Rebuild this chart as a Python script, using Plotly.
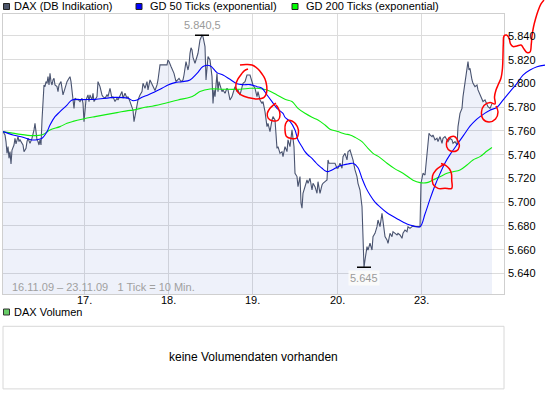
import plotly.graph_objects as go

W, H = 545, 395

# ---------------- data ----------------
# DAX (DB Indikation), x = 10-minute tick counted from the start of 16.11.09
tick = [0, 2, 3, 4, 5, 6, 7, 8, 9, 11, 12, 13, 15, 16, 17, 19, 20, 21, 23, 24, 25, 27, 28, 29, 31, 32, 33, 34, 35, 36,
        37, 38, 39, 40, 41, 42, 43, 44, 45, 46, 47, 48, 49, 50, 51, 52, 54, 55, 56, 58, 59, 60, 62, 63, 64, 66, 67, 68,
        70, 71, 72, 74, 75, 77, 79, 80, 81, 82, 83, 85, 86, 87, 89, 90, 91, 92, 94, 95, 97, 99, 100, 102, 104, 105, 107,
        109, 110, 112, 114, 115, 117, 119, 120, 122, 124, 125, 127, 129, 130, 131, 133, 134, 135, 137, 139, 140, 142,
        144, 145, 147, 149, 150, 152, 154, 155, 157, 159, 160, 162, 164, 165, 166, 168, 170, 171, 173, 175, 176, 178,
        180, 181, 183, 185, 186, 187, 188, 189, 190, 192, 194, 195, 197, 199, 200, 202, 203, 204, 205, 207, 208, 209,
        210, 211, 212, 214, 215, 216, 218, 219, 220, 222, 224, 225, 227, 229, 230, 232, 234, 235, 237, 239, 240, 242,
        244, 247, 249, 250, 252, 254, 255, 257, 259, 260, 262, 264, 265, 267, 269, 270, 272, 273, 274, 275, 277, 279,
        280, 282, 284, 285, 287, 289, 290, 291, 292, 294, 295, 297, 298, 299, 300, 302, 304, 305, 307, 309, 310, 312,
        314, 315, 317, 319, 320, 322, 324, 325, 326, 329, 332, 334, 335, 337, 339, 340, 342, 344, 345, 347, 349, 350,
        352, 354, 355, 357, 359, 360, 361, 362, 364, 365, 367, 369, 370, 372, 374, 375, 377, 379, 380, 382, 384, 385,
        387, 389, 390, 392, 394, 395, 397, 399, 400, 402, 404, 405, 407, 409, 410, 412, 414, 417, 418, 419, 420, 422,
        423, 424, 425, 426, 427, 429, 430, 432, 434, 435, 437, 439, 440, 442, 444, 445, 447, 449, 450, 452, 454, 455,
        457, 459, 460, 462, 464, 465, 466, 467, 469, 470, 472, 474, 475, 477, 479, 480, 482, 484, 485, 487, 489]
price = [5759.4, 5756.6, 5751.0, 5741.1, 5746.7, 5736.9, 5742.5, 5732.1, 5743.9, 5748.1, 5753.8, 5749.0, 5755.2,
         5751.0, 5752.4, 5749.5, 5748.1, 5742.5, 5745.3, 5751.0, 5753.8, 5749.5, 5751.8, 5753.8, 5760.8, 5766.4,
         5759.4, 5752.4, 5751.0, 5748.1, 5752.4, 5748.1, 5769.2, 5786.1, 5798.7, 5797.3, 5801.5, 5800.1, 5805.7,
         5798.7, 5808.5, 5801.5, 5798.7, 5802.9, 5804.3, 5798.7, 5797.3, 5793.1, 5798.7, 5801.5, 5795.9, 5790.3,
         5795.9, 5800.1, 5801.5, 5804.3, 5805.7, 5801.5, 5788.9, 5779.0, 5787.5, 5786.1, 5786.6, 5784.7, 5787.5,
         5783.2, 5767.8, 5777.6, 5786.1, 5790.3, 5784.7, 5790.3, 5786.1, 5791.7, 5784.7, 5786.1, 5788.9, 5801.5,
         5797.3, 5790.3, 5788.9, 5787.5, 5790.3, 5788.9, 5795.9, 5787.5, 5788.9, 5784.7, 5787.5, 5786.1, 5790.3,
         5793.1, 5787.5, 5791.7, 5787.5, 5788.9, 5784.7, 5779.0, 5777.6, 5767.8, 5779.0, 5784.7, 5786.1, 5790.3,
         5793.1, 5800.1, 5795.9, 5801.5, 5794.5, 5802.9, 5798.7, 5797.3, 5794.0, 5798.7, 5802.9, 5815.6, 5815.6,
         5815.6, 5815.6, 5815.6, 5819.8, 5818.4, 5814.2, 5810.0, 5808.5, 5801.5, 5802.9, 5804.3, 5801.5, 5802.9,
         5807.1, 5818.4, 5811.3, 5815.6, 5825.4, 5830.0, 5828.2, 5822.0, 5817.0, 5822.6, 5825.4, 5836.6, 5840.5,
         5839.4, 5831.0, 5802.9, 5817.0, 5822.6, 5819.8, 5814.2, 5805.7, 5783.2, 5794.5, 5788.9, 5808.5, 5793.1,
         5801.5, 5795.9, 5793.1, 5794.5, 5791.7, 5795.9, 5794.5, 5786.1, 5788.9, 5791.7, 5797.3, 5793.1, 5794.5,
         5790.3, 5798.7, 5800.1, 5801.5, 5807.1, 5807.1, 5800.1, 5798.7, 5795.9, 5788.9, 5793.1, 5786.1, 5783.2,
         5784.7, 5776.2, 5763.6, 5766.4, 5759.4, 5769.2, 5772.0, 5769.2, 5758.0, 5745.3, 5746.7, 5741.1, 5742.5,
         5738.3, 5746.7, 5742.5, 5752.4, 5746.7, 5760.8, 5755.2, 5746.7, 5724.3, 5721.5, 5713.0, 5721.5, 5699.0,
         5694.8, 5707.4, 5713.0, 5718.6, 5715.8, 5720.1, 5710.2, 5715.8, 5713.0, 5707.4, 5717.2, 5707.4, 5714.4,
         5715.8, 5717.2, 5718.6, 5735.5, 5732.7, 5732.7, 5732.7, 5728.5, 5728.5, 5732.7, 5728.5, 5738.3, 5741.1,
         5735.5, 5742.5, 5743.9, 5738.3, 5735.5, 5727.1, 5721.5, 5715.8, 5710.2, 5696.2, 5672.0, 5645.0, 5651.2,
         5662.5, 5659.6, 5665.3, 5659.6, 5670.9, 5673.7, 5679.3, 5684.9, 5679.3, 5690.5, 5684.0, 5671.0, 5668.1,
         5665.3, 5673.7, 5670.9, 5675.1, 5673.7, 5672.3, 5673.7, 5672.3, 5669.5, 5673.7, 5676.5, 5675.1, 5679.3,
         5677.9, 5679.3, 5679.9, 5679.3, 5679.3, 5679.3, 5715.8, 5721.4, 5724.3, 5722.8, 5732.7, 5738.3, 5755.2,
         5758.0, 5756.6, 5755.2, 5756.6, 5752.4, 5753.8, 5751.0, 5755.2, 5749.5, 5753.8, 5755.2, 5752.4, 5751.0,
         5753.8, 5752.4, 5749.5, 5751.0, 5748.1, 5763.6, 5774.8, 5779.0, 5788.9, 5800.1, 5814.2, 5818.4, 5811.3,
         5812.7, 5802.9, 5800.1, 5797.3, 5798.7, 5794.5, 5790.3, 5786.1, 5784.7, 5786.1, 5781.8, 5780.4, 5779.0,
         5783.0]

# GD 50 Ticks (exponential)
ema50_tick = [0, 10, 20, 29, 34, 39, 44, 47, 52, 57, 64, 69, 80, 92, 112, 125, 130, 134, 139, 145, 152, 159, 165,
              172, 179, 187, 194, 200, 207, 214, 220, 227, 234, 240, 247, 254, 259, 264, 269, 274, 280, 282, 287,
              292, 295, 299, 302, 305, 309, 312, 315, 319, 322, 325, 329, 335, 340, 345, 350, 355, 359, 363, 367,
              372, 377, 384, 394, 404, 410, 417, 422, 427, 432, 437, 442, 447, 452, 457, 462, 467, 472, 477, 482,
              487, 494, 500, 507, 514, 520, 527, 534, 542]
ema50 = [5759.4, 5756.6, 5754.6, 5752.4, 5752.6, 5753.8, 5759.3, 5765.0, 5772.0, 5776.2, 5781.8, 5786.1, 5786.4,
         5786.6, 5788.3, 5787.5, 5785.5, 5786.1, 5788.3, 5790.3, 5793.1, 5795.9, 5798.7, 5800.7, 5801.5, 5803.0,
         5808.5, 5814.2, 5815.0, 5809.1, 5807.1, 5803.5, 5799.8, 5799.0, 5799.0, 5797.3, 5795.9, 5790.3, 5784.7,
         5779.0, 5774.8, 5771.5, 5768.0, 5760.8, 5752.4, 5746.7, 5742.5, 5739.7, 5736.9, 5734.1, 5731.3, 5728.5,
         5726.5, 5725.7, 5727.1, 5729.9, 5731.3, 5732.1, 5732.7, 5729.0, 5720.0, 5712.0, 5706.0, 5700.0, 5696.0,
         5691.0, 5686.0, 5681.5, 5680.0, 5679.3, 5690.0, 5702.5, 5714.0, 5724.0, 5733.0, 5740.0, 5746.0, 5752.0,
         5758.0, 5764.0, 5768.5, 5772.0, 5775.0, 5777.5, 5780.0, 5786.0, 5793.1, 5800.1, 5807.1, 5811.3, 5814.1,
         5815.5]

# GD 200 Ticks (exponential)
ema200_tick = [0, 14, 30, 40, 47, 57, 64, 70, 80, 92, 114, 125, 130, 142, 147, 159, 175, 187, 192, 197, 207, 220,
               237, 247, 254, 264, 274, 282, 289, 295, 302, 309, 315, 322, 327, 335, 342, 347, 352, 359, 365, 370,
               377, 384, 392, 400, 410, 417, 424, 430, 437, 444, 450, 457, 464, 470, 477, 484, 489]
ema200 = [5759.4, 5757.5, 5756.0, 5757.0, 5760.8, 5763.6, 5766.4, 5768.0, 5770.0, 5772.0, 5775.4, 5777.1, 5777.5,
          5779.9, 5780.5, 5782.7, 5786.1, 5788.3, 5790.3, 5793.1, 5795.3, 5795.1, 5795.1, 5795.9, 5795.9, 5794.5,
          5790.3, 5786.6, 5784.7, 5779.0, 5774.8, 5771.5, 5769.2, 5765.0, 5761.4, 5759.4, 5757.4, 5756.6, 5754.6,
          5750.9, 5745.3, 5741.1, 5737.5, 5732.7, 5728.0, 5724.3, 5718.5, 5716.4, 5716.4, 5718.6, 5721.4, 5724.3,
          5725.6, 5727.1, 5731.3, 5735.5, 5738.3, 5743.0, 5746.0]

day_ticks = [81, 165, 249, 334, 418]
day_labels = ["17.", "18.", "19.", "20.", "23."]
y_ticks = [5640, 5660, 5680, 5700, 5720, 5740, 5760, 5780, 5800, 5820, 5840]
y_tick_labels = ["5.640", "5.660", "5.680", "5.700", "5.720", "5.740", "5.760", "5.780", "5.800", "5.820", "5.840"]

high_tick, high_val, high_text = 199, 5840.5, "5.840,5"
low_tick, low_val, low_text = 361, 5645.0, "5.645"

# hand-drawn red marks (tick, index points)
red1_x = [237, 243, 249, 255, 259, 262, 263.7, 263.5, 261, 254, 246, 238, 233.5, 233, 235, 238.5, 241.5, 245]
red1_y = [5815.6, 5816.0, 5815.6, 5812.2, 5808.0, 5803.8, 5797.9, 5792.0, 5788.2, 5786.9, 5787.9, 5790.3, 5794.5,
          5799.5, 5803.8, 5808.0, 5810.9, 5812.2]
red2_x = [273, 275.3, 277, 275.3, 270.3, 265.3, 264.3, 267, 270.3, 273]
red2_y = [5781.8, 5779.1, 5773.4, 5769.2, 5768.4, 5770.6, 5774.8, 5779.1, 5781.8, 5783.3]
red3_x = [293, 289, 285, 282.5, 282, 283.5, 288.5, 293.5, 295.5, 294.5, 292]
red3_y = [5765.8, 5768.4, 5768.8, 5765.8, 5760.8, 5755.3, 5753.6, 5754.0, 5759.1, 5763.3, 5766.5]
red4_x = [445.3, 449, 452, 455.3, 456.3, 453.7, 447, 443.7, 443.7, 446]
red4_y = [5753.8, 5755.3, 5755.1, 5750.9, 5746.7, 5743.3, 5743.3, 5746.7, 5750.9, 5754.0]
red5_x = [438, 443, 446.5, 448.5, 448.7, 448.7, 442, 435, 430, 429.5, 433, 438, 442]
red5_y = [5732.5, 5730.8, 5727.9, 5723.7, 5718.6, 5711.6, 5711.6, 5711.6, 5715.2, 5722.0, 5727.1, 5730.4, 5732.1]
red6_x = [493, 495, 492.5, 486, 480, 478.5, 481, 487, 492, 491.5, 493, 495.5, 498, 499.5, 500, 500.3, 501, 503.5,
          506, 507.5, 510, 514, 518, 521, 524, 527, 528.3, 529, 530.5, 532.5, 535, 538, 541]
red6_y = [5781.0, 5775.9, 5770.0, 5767.5, 5770.0, 5775.9, 5781.4, 5783.9, 5782.7, 5788.6, 5794.5, 5799.5, 5804.6,
          5813.0, 5824.0, 5833.3, 5840.0, 5840.8, 5838.3, 5833.3, 5831.1, 5831.6, 5832.4, 5829.0, 5826.1, 5826.5,
          5833.3, 5840.0, 5847.6, 5854.3, 5861.1, 5867.0, 5870.3]

legend_items = ["DAX (DB Indikation)", "GD 50 Ticks (exponential)", "GD 200 Ticks (exponential)"]
legend_colors = ["#4d566b", "#0000ff", "#00ff00"]

# ---------------- layout helpers ----------------
FONT = "Liberation Sans, Arial, sans-serif"
PRICE_COL = "#4a5470"
GRID = "#dcdcdc"
BORDER = "#cfcfcf"


def px(x):
    return x / W


def py(y):
    return 1 - y / H


fig = go.Figure()

fig.add_trace(go.Scatter(x=tick, y=price, mode="lines", line=dict(color=PRICE_COL, width=1.1),
                         fill="tozeroy", fillcolor="rgba(100,130,210,0.11)", hoverinfo="skip"))
fig.add_trace(go.Scatter(x=ema200_tick, y=ema200, mode="lines", line=dict(color="#10ee10", width=1.1, shape="spline"),
                         hoverinfo="skip"))
fig.add_trace(go.Scatter(x=[high_tick, low_tick], y=[high_val, low_val], mode="markers",
                         marker=dict(symbol="line-ew", size=10, line=dict(color="#000000", width=1.5)),
                         hoverinfo="skip"))
fig.add_trace(go.Scatter(x=ema50_tick, y=ema50, mode="lines", line=dict(color="#0000ff", width=1.1, shape="spline"),
                         xaxis="x2", yaxis="y2", hoverinfo="skip"))
for rx, ry in [(red1_x, red1_y), (red2_x, red2_y), (red3_x, red3_y), (red4_x, red4_y), (red5_x, red5_y),
               (red6_x, red6_y)]:
    fig.add_trace(go.Scatter(x=rx, y=ry, mode="lines", line=dict(color="#ff0000", width=1.5, shape="spline"),
                             xaxis="x2", yaxis="y2", hoverinfo="skip"))

# axes geometry (pixels of the 545x395 page)
plot_l, plot_r, plot_t, plot_b = 3, 504, 14, 294.3
y_top_val, y_bot_val = 5858.5, 5622.3

fig.update_layout(
    width=W, height=H, margin=dict(l=0, r=0, t=0, b=0),
    paper_bgcolor="white", plot_bgcolor="rgba(0,0,0,0)",
    showlegend=False, hovermode=False,
    font=dict(family=FONT, size=11, color="#000000"),
    xaxis=dict(domain=[px(plot_l), px(plot_r)], range=[0, plot_r - plot_l], tickmode="array",
               tickvals=day_ticks, showticklabels=False, showgrid=True, gridcolor=GRID, gridwidth=1,
               zeroline=False, showline=True, mirror=True, linecolor=BORDER, ticks="", automargin=False),
    yaxis=dict(domain=[py(plot_b), py(plot_t)], range=[y_bot_val, y_top_val], side="right", tickmode="array",
               tickvals=y_ticks, showticklabels=False, showgrid=True, gridcolor=GRID, gridwidth=1, zeroline=False,
               showline=True, mirror=True, linecolor=BORDER, ticks="", automargin=False),
    xaxis2=dict(domain=[0, 1], range=[-plot_l, W - plot_l], visible=False, anchor="y2"),
    yaxis2=dict(domain=[0, 1], range=[5840 - (H - 36) * 0.84282, 5840 + 36 * 0.84282], visible=False,
                anchor="x2"),
)

annotations = [
    dict(x=high_tick, y=high_val, xref="x", yref="y", text=high_text, showarrow=False, yshift=10,
         font=dict(size=11, color="#9a9a9a")),
    dict(x=low_tick, y=low_val, xref="x", yref="y", text=low_text, showarrow=False, yshift=-11,
         bgcolor="rgba(250,250,250,0.95)", borderpad=1, font=dict(size=11, color="#9a9a9a")),
    dict(x=px(10), y=py(286.7), xref="paper", yref="paper", xanchor="left", yanchor="middle", showarrow=False,
         text="16.11.09 \u2013 23.11.09\u00a0\u00a0\u00a01 Tick = 10 Min.", font=dict(size=11, color="#a0a0a0")),
    dict(x=px(12), y=py(311.7), xref="paper", yref="paper", xanchor="left", yanchor="middle", showarrow=False,
         text="DAX Volumen", font=dict(size=11, color="#000")),
    dict(x=px(253.5), y=py(356.5), xref="paper", yref="paper", xanchor="center", yanchor="middle",
         showarrow=False, text="keine Volumendaten vorhanden", font=dict(size=12, color="#000")),
]
# x-axis day labels
for t, lbl in zip(day_ticks, day_labels):
    annotations.append(dict(x=t, y=py(300), xref="x", yref="paper", xanchor="center", yanchor="middle",
                            showarrow=False, text=lbl, font=dict(size=11, color="#000")))
# y-axis value labels (right side)
for v, lbl in zip(y_ticks, y_tick_labels):
    annotations.append(dict(x=px(506), y=v, xref="paper", yref="y", xanchor="left", yanchor="middle",
                            showarrow=False, text=lbl, font=dict(size=11, color="#000")))

shapes = []
legend_sq_x = [3.5, 136, 292]
legend_tx_x = [12, 148, 304]
for lbl, col, sx, tx in zip(legend_items, legend_colors, legend_sq_x, legend_tx_x):
    shapes.append(dict(type="rect", xref="paper", yref="paper", x0=px(sx), x1=px(sx + 6), y0=py(9.5), y1=py(3.5),
                       fillcolor=col, line=dict(color="#222222", width=1)))
    annotations.append(dict(x=px(tx), y=py(6.5), xref="paper", yref="paper", xanchor="left", yanchor="middle",
                            showarrow=False, text=lbl, font=dict(size=11, color="#000")))
shapes.append(dict(type="rect", xref="paper", yref="paper", x0=px(3.5), x1=px(9.5), y0=py(315), y1=py(309),
                   fillcolor="#66cc66", line=dict(color="#333333", width=1)))
# volume panel frame
shapes.append(dict(type="rect", xref="paper", yref="paper", x0=px(plot_l), x1=px(plot_r), y0=py(388.9),
                   y1=py(326.3), line=dict(color="#d8d8d8", width=1), fillcolor="rgba(0,0,0,0)"))
fig.update_layout(annotations=annotations, shapes=shapes)

fig.write_html("out.html", config={"displayModeBar": False, "staticPlot": True},
               post_script="document.body.style.margin='0px';document.body.style.overflow='hidden';")
